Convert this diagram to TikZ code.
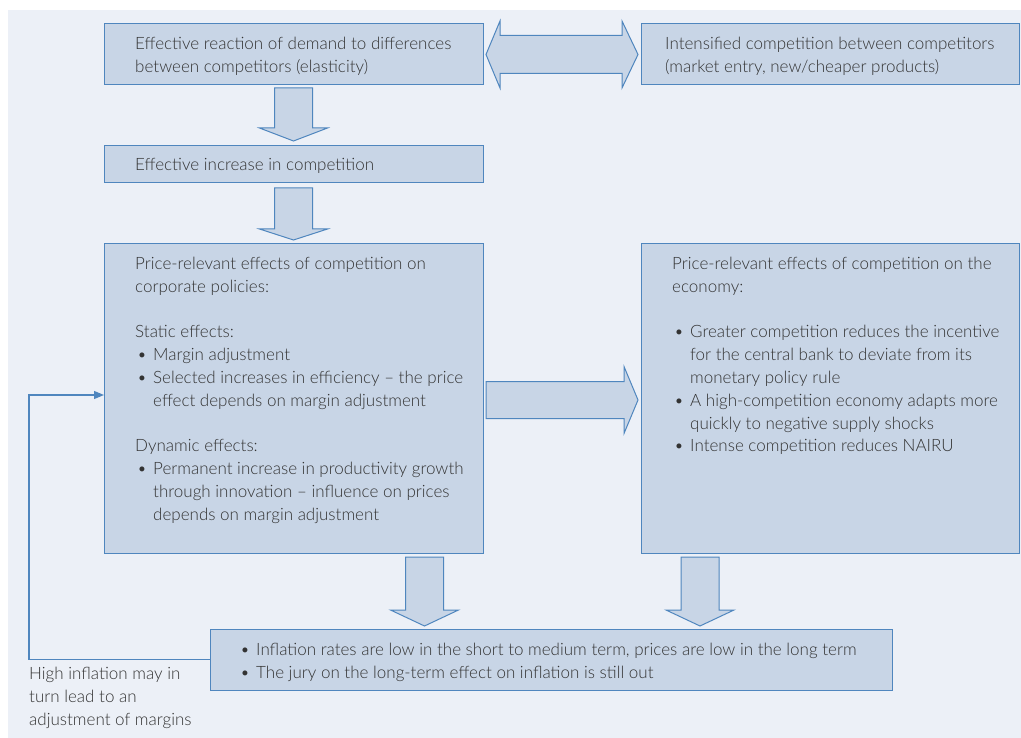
\documentclass[tikz,border=0pt]{standalone}
\usepackage{fontspec}
\setmainfont{Lato Light}
\usetikzlibrary{calc,arrows.meta}
\definecolor{panelc}{HTML}{ECF0F7}
\definecolor{boxfill}{HTML}{C8D5E6}
\definecolor{boxline}{HTML}{4F86BE}
\definecolor{txtc}{HTML}{333333}
\newcommand{\bl}{\makebox[18pt][l]{\hspace{2pt}\textbullet}}
\newcommand{\ind}{\hspace*{18pt}}
\newcommand{\dnblock}[3]{%
  \draw[blockarrow] ($(#1)+(-19,0)$) -- ($(#1)+(19,0)$) -- ($(#2)+(19,-#3)$) -- ($(#2)+(34,-#3)$) -- (#2) -- ($(#2)+(-34,-#3)$) -- ($(#2)+(-19,-#3)$) -- cycle;}
\tikzset{
  box/.style={draw=boxline, fill=boxfill, line width=1pt, inner sep=0pt, outer sep=0pt, anchor=north west},
  blockarrow/.style={draw=boxline, fill=boxfill, line width=1pt, line join=miter},
  txt/.style={text=txtc, font=\fontsize{17}{22.8}\selectfont, align=left, inner sep=0pt},
  fbline/.style={draw=boxline, line width=1.2pt, -{Triangle[length=10pt,width=8pt]}}
}
\begin{document}
\begin{tikzpicture}[x=1pt,y=-1pt]
\useasboundingbox (0,0) rectangle (1021,738);
\fill[panelc] (8,10) rectangle (1021,738);

% boxes
\node[box, minimum width=379pt, minimum height=61pt] (b1) at (104,24) {};
\node[box, minimum width=378pt, minimum height=61pt] (b2) at (641,24) {};
\node[box, minimum width=379pt, minimum height=37pt] (b3) at (104,146) {};
\node[box, minimum width=379pt, minimum height=309pt] (b4) at (104,244) {};
\node[box, minimum width=378pt, minimum height=309pt] (b5) at (641,244) {};
\node[box, minimum width=682pt, minimum height=61pt] (b6) at (210,629) {};

% texts
\node[txt, anchor=west] (t1) at (135,56) {Effective reaction of demand to differences\\between competitors (elasticity)};
\node[txt, anchor=west] (t2) at (665,56) {Intensified competition between competitors\\(market entry, new/cheaper products)};
\node[txt, anchor=west] (t3) at (135,165.5) {Effective increase in competition};
\node[txt, anchor=north west] (t4) at (135,257) {Price-relevant effects of competition on\\corporate policies:\\[22.8pt]
Static effects:\\
\bl Margin adjustment\\
\bl Selected increases in efficiency – the price\\
\ind effect depends on margin adjustment\\[22.8pt]
Dynamic effects:\\
\bl Permanent increase in productivity growth\\
\ind through innovation – influence on prices\\
\ind depends on margin adjustment};
\node[txt, anchor=north west] (t5) at (672,257) {Price-relevant effects of competition on the\\economy:\\[22.8pt]
\bl Greater competition reduces the incentive\\
\ind for the central bank to deviate from its\\
\ind monetary policy rule\\
\bl A high-competition economy adapts more\\
\ind quickly to negative supply shocks\\
\bl Intense competition reduces NAIRU};
\node[txt, anchor=west] (t6) at (238,662) {\bl Inflation rates are low in the short to medium term, prices are low in the long term\\
\bl The jury on the long-term effect on inflation is still out};
\node[txt, anchor=north west] (t7) at (29,667) {High inflation may in\\turn lead to an\\adjustment of margins};

% double arrow between b1 and b2
\draw[blockarrow] ($(b1.east)+(3,0)$) -- ($(b1.east)+(17,-33.5)$) -- ($(b1.east)+(17,-19)$)
  -- ($(b2.west)+(-19,-19)$) -- ($(b2.west)+(-19,-33.5)$) -- ($(b2.west)+(-3,0)$)
  -- ($(b2.west)+(-19,33.5)$) -- ($(b2.west)+(-19,19)$) -- ($(b1.east)+(17,19)$)
  -- ($(b1.east)+(17,33.5)$) -- cycle;

% right arrow b4 -> b5
\draw[blockarrow] ($(b4.east)+(3,-17)$) -- ($(b5.west)+(-17,-17)$) -- ($(b5.west)+(-17,-32)$)
  -- ($(b5.west)+(-3,1.5)$) -- ($(b5.west)+(-17,35)$) -- ($(b5.west)+(-17,20)$)
  -- ($(b4.east)+(3,20)$) -- cycle;

% down arrows
\coordinate (a1s) at ($(b1.south)+(0,3)$);
\coordinate (a1t) at ($(b3.north)+(0,-5)$);
\dnblock{a1s}{a1t}{13}
\coordinate (a2s) at ($(b3.south)+(0,5)$);
\coordinate (a2t) at ($(b4.north)+(0,-4)$);
\dnblock{a2s}{a2t}{11}
\coordinate (a3s) at ($(b4.south east)+(-58.5,4)$);
\coordinate (a3t) at ($(a3s |- b6.north)+(0,-3)$);
\dnblock{a3s}{a3t}{16}
\coordinate (a4s) at ($(b5.south west)+(59,4)$);
\coordinate (a4t) at ($(a4s |- b6.north)+(0,-3)$);
\dnblock{a4s}{a4t}{16}

% feedback
\coordinate (fbx) at (29,0);
\coordinate (fbend) at ($(b4.west)+(0,-3.5)$);
\draw[fbline] (b6.west) -- (b6.west -| fbx) |- (fbend);
\end{tikzpicture}
\end{document}
